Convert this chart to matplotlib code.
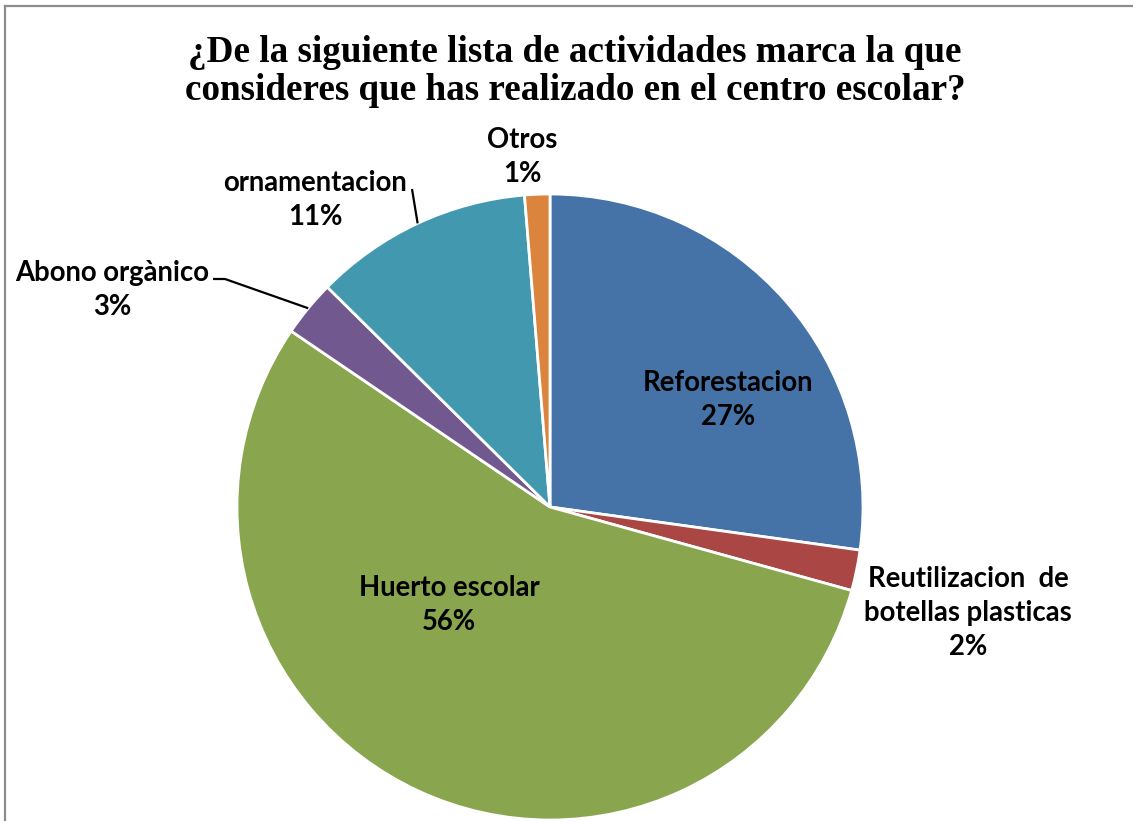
import numpy as np
import matplotlib
matplotlib.use("Agg")
import matplotlib.pyplot as plt
from matplotlib.lines import Line2D

# ---- data ----
categories = ["Reforestacion", "Reutilizacion  de\nbotellas plasticas", "Huerto escolar",
              "Abono orgànico", "ornamentacion", "Otros"]
values = [27.2, 2.1, 55.2, 2.9, 11.3, 1.3]
pct_labels = ["27%", "2%", "56%", "3%", "11%", "1%"]
colors = ["#4572A7", "#AA4643", "#89A54E", "#71588F", "#4198AF", "#DB843D"]
title = "¿De la siguiente lista de actividades marca la que\nconsideres que has realizado en el centro escolar?"

W, H = 1133, 821
fig = plt.figure(figsize=(W / 100, H / 100), dpi=100)
ax = fig.add_axes([0, 0, 1, 1])
ax.set_xlim(0, W)
ax.set_ylim(0, H)
ax.axis("off")

cx, cy, R = 550, H - 507, 313
wedges, _ = ax.pie(values, colors=colors, startangle=90, counterclock=False,
                   center=(cx, cy), radius=R, frame=True,
                   wedgeprops=dict(edgecolor="white", linewidth=2))
ax.set_xlim(0, W)
ax.set_ylim(0, H)
ax.set_aspect("auto")
ax.axis("off")

# label block centers (image pixel coords, layout only)
label_pos = [(728, 400), (968, 613), (449, 605), (112, 290), (315, 200), (522, 157)]
font = dict(family="Lato", weight="bold", fontsize=19.8)
for w, cat, pct, (lx, ly) in zip(wedges, categories, pct_labels, label_pos):
    ax.text(lx, H - ly, cat + "\n" + pct, ha="center", va="center",
            linespacing=1.40, color="black", **font)

# leader lines: from wedge edge at mid-angle to the label
def edge_point(w):
    a = np.deg2rad((w.theta1 + w.theta2) / 2)
    return cx + R * np.cos(a), cy + R * np.sin(a)

ex, ey = edge_point(wedges[4])
ax.plot([ex, 412], [ey, H - 189], color="black", lw=1.6, solid_capstyle="butt")
ex, ey = edge_point(wedges[3])
ax.plot([ex, 225, 213], [ey, H - 279, H - 279], color="black", lw=1.6, solid_capstyle="butt")

# title
fig.text(575 / W, 1 - 35 / H, title, ha="center", va="top", family="Liberation Serif",
         weight="bold", fontsize=26.7, linespacing=1.10)

# border (top and left visible)
fig.add_artist(Line2D([5 / W, 5 / W], [0, 1 - 6 / H], color="#8c8c8c", lw=1.6,
                      transform=fig.transFigure))
fig.add_artist(Line2D([5 / W, 1], [1 - 6 / H, 1 - 6 / H], color="#8c8c8c", lw=1.6,
                      transform=fig.transFigure))

fig.savefig("out.png", dpi=100)
